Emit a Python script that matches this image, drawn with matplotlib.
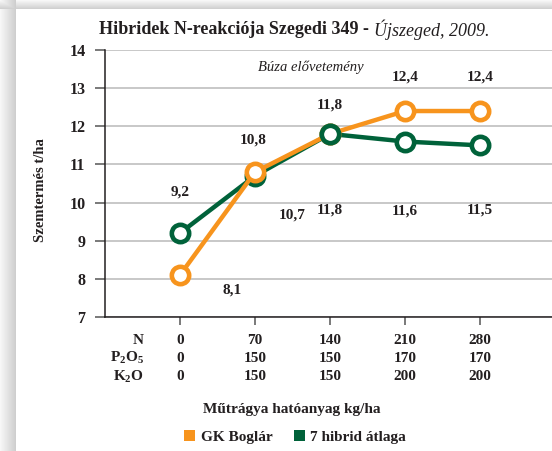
import matplotlib
matplotlib.use('Agg')
import matplotlib.pyplot as plt
from matplotlib.patches import Patch
import numpy as np

plt.rcParams['font.family'] = ['Liberation Serif', 'DejaVu Serif']
plt.rcParams['font.weight'] = 'bold'
plt.rcParams['mathtext.fontset'] = 'custom'
plt.rcParams['mathtext.rm'] = 'Liberation Serif:bold'
plt.rcParams['mathtext.it'] = 'Liberation Serif:bold'

# ==================== DATA ====================
n_doses = ['0', '70', '140', '210', '280']
p2o5 = ['0', '150', '150', '170', '170']
k2o = ['0', '150', '150', '200', '200']
gk_boglar = [8.1, 10.8, 11.8, 12.4, 12.4]
hibrid_atlag = [9.2, 10.7, 11.8, 11.6, 11.5]

orange = '#F7941D'
green = '#00623A'
ink = '#231f20'

# label offsets in pixels (dx, dy)
off_orange = [(52, -15), (-2, 32), (0, 29), (0, 34), (0, 34)]
off_green = [(0, 41), (37, -39), (0, -76), (0, -69), (0, -65)]

W, H = 552, 451
fig = plt.figure(figsize=(W / 100, H / 100), dpi=100)

# background: white panel with soft gray shadow on left / top
bg = fig.add_axes([0, 0, 1, 1])
px, py = 16, 9
xs = np.arange(W)[None, :]
ys = np.arange(H)[:, None]
left = np.where(xs < px, 0.80 + 0.17 * (px - xs) / px, 1.0)
top = np.where(ys < py, 0.80 + 0.17 * (py - ys) / py, 1.0)
img = np.minimum(np.broadcast_to(left, (H, W)), np.broadcast_to(top, (H, W)))
bg.imshow(np.dstack([img] * 3), aspect='auto', extent=[0, 1, 0, 1], vmin=0, vmax=1)
bg.axis('off')

ax = fig.add_axes([105 / W, (H - 317) / H, (W - 105) / W, 267 / H])
x = np.arange(len(n_doses))

ax.plot(x, hibrid_atlag, color=green, lw=3.2, zorder=3)
ax.plot(x, gk_boglar, color=orange, lw=3.2, marker='o', ms=12.5,
        mfc='white', mec=orange, mew=3.3, zorder=4)
ax.plot(x, hibrid_atlag, ls='none', marker='o', ms=12.5,
        mfc='white', mec=green, mew=3.3, zorder=3.5)
# green marker drawn above orange where the two meet at 140
ax.plot(x[2:3], hibrid_atlag[2:3], ls='none', marker='o', ms=12.5,
        mfc='white', mec=green, mew=3.3, zorder=5)

for i, v in enumerate(gk_boglar):
    ax.annotate(f'{v:.1f}'.replace('.', ','), (x[i], v), xytext=off_orange[i],
                textcoords='offset pixels', ha='center', va='center',
                fontsize=11, fontweight='bold', color=ink)
for i, v in enumerate(hibrid_atlag):
    ax.annotate(f'{v:.1f}'.replace('.', ','), (x[i], v), xytext=off_green[i],
                textcoords='offset pixels', ha='center', va='center',
                fontsize=11, fontweight='bold', color=ink)

ax.set_xlim(-1, (W - 105) / 75 - 1)
ax.set_ylim(7, 14)
ax.set_yticks(range(7, 15))
ax.set_xticks(x)
ax.set_xticklabels([])
ax.yaxis.grid(True, color='#c4c4c4', lw=1.3)
ax.set_axisbelow(True)
for s in ['top', 'right']:
    ax.spines[s].set_visible(False)
for s in ['left', 'bottom']:
    ax.spines[s].set_color(ink)
    ax.spines[s].set_linewidth(1.1)
ax.tick_params(axis='y', length=7, width=1.1, color='#555555', labelsize=11.5,
               pad=7, labelcolor=ink)
ax.tick_params(axis='x', length=6, width=1.1, color='#555555')
for lab in ax.get_yticklabels():
    lab.set_fontweight('bold')
ax.patch.set_alpha(0)

# fertilizer table below the axis
rows = [(n_doses, 'N', 340), (p2o5, r'P$_2$O$_5$', 358), (k2o, r'K$_2$O', 377)]
for vals, name, ypix in rows:
    yf = 1 - ypix / H
    fig.text(144 / W, yf, name, ha='right', va='center', fontsize=11,
             fontweight='bold', color=ink)
    for i, v in enumerate(vals):
        xf = (180 + 75 * i) / W
        fig.text(xf, yf, v, ha='center', va='center', fontsize=11,
                 fontweight='bold', color=ink)

fig.text(292 / W, 1 - 410 / H, 'Műtrágya hatóanyag kg/ha', ha='center', va='center',
         fontsize=11, fontweight='bold', color=ink)
fig.text(40 / W, 1 - 190 / H, 'Szemtermés t/ha', ha='center', va='center',
         rotation=90, fontsize=10.5, fontweight='bold', color=ink)

fig.text(369 / W, 1 - 30 / H, 'Hibridek N-reakciója Szegedi 349 -', ha='right',
         va='center', fontsize=13, fontweight='bold', color=ink)
fig.text(374 / W, 1 - 30 / H, 'Újszeged, 2009.', ha='left', va='center',
         fontsize=13, fontweight='normal', style='italic', color=ink)
fig.text(311 / W, 1 - 67 / H, 'Búza elővetemény', ha='center', va='center',
         fontsize=10.5, fontweight='normal', style='italic', color=ink)

handles = [Patch(facecolor=orange, edgecolor='none', label='GK Boglár'),
           Patch(facecolor=green, edgecolor='none', label='7 hibrid átlaga')]
leg = fig.legend(handles=handles, loc='center', bbox_to_anchor=(295 / W, 1 - 437 / H),
                 ncol=2, frameon=False, handlelength=0.75, handleheight=0.75,
                 handletextpad=0.35, columnspacing=1.4, fontsize=11)
for t in leg.get_texts():
    t.set_color(ink)

fig.savefig('out.png', dpi=100)
